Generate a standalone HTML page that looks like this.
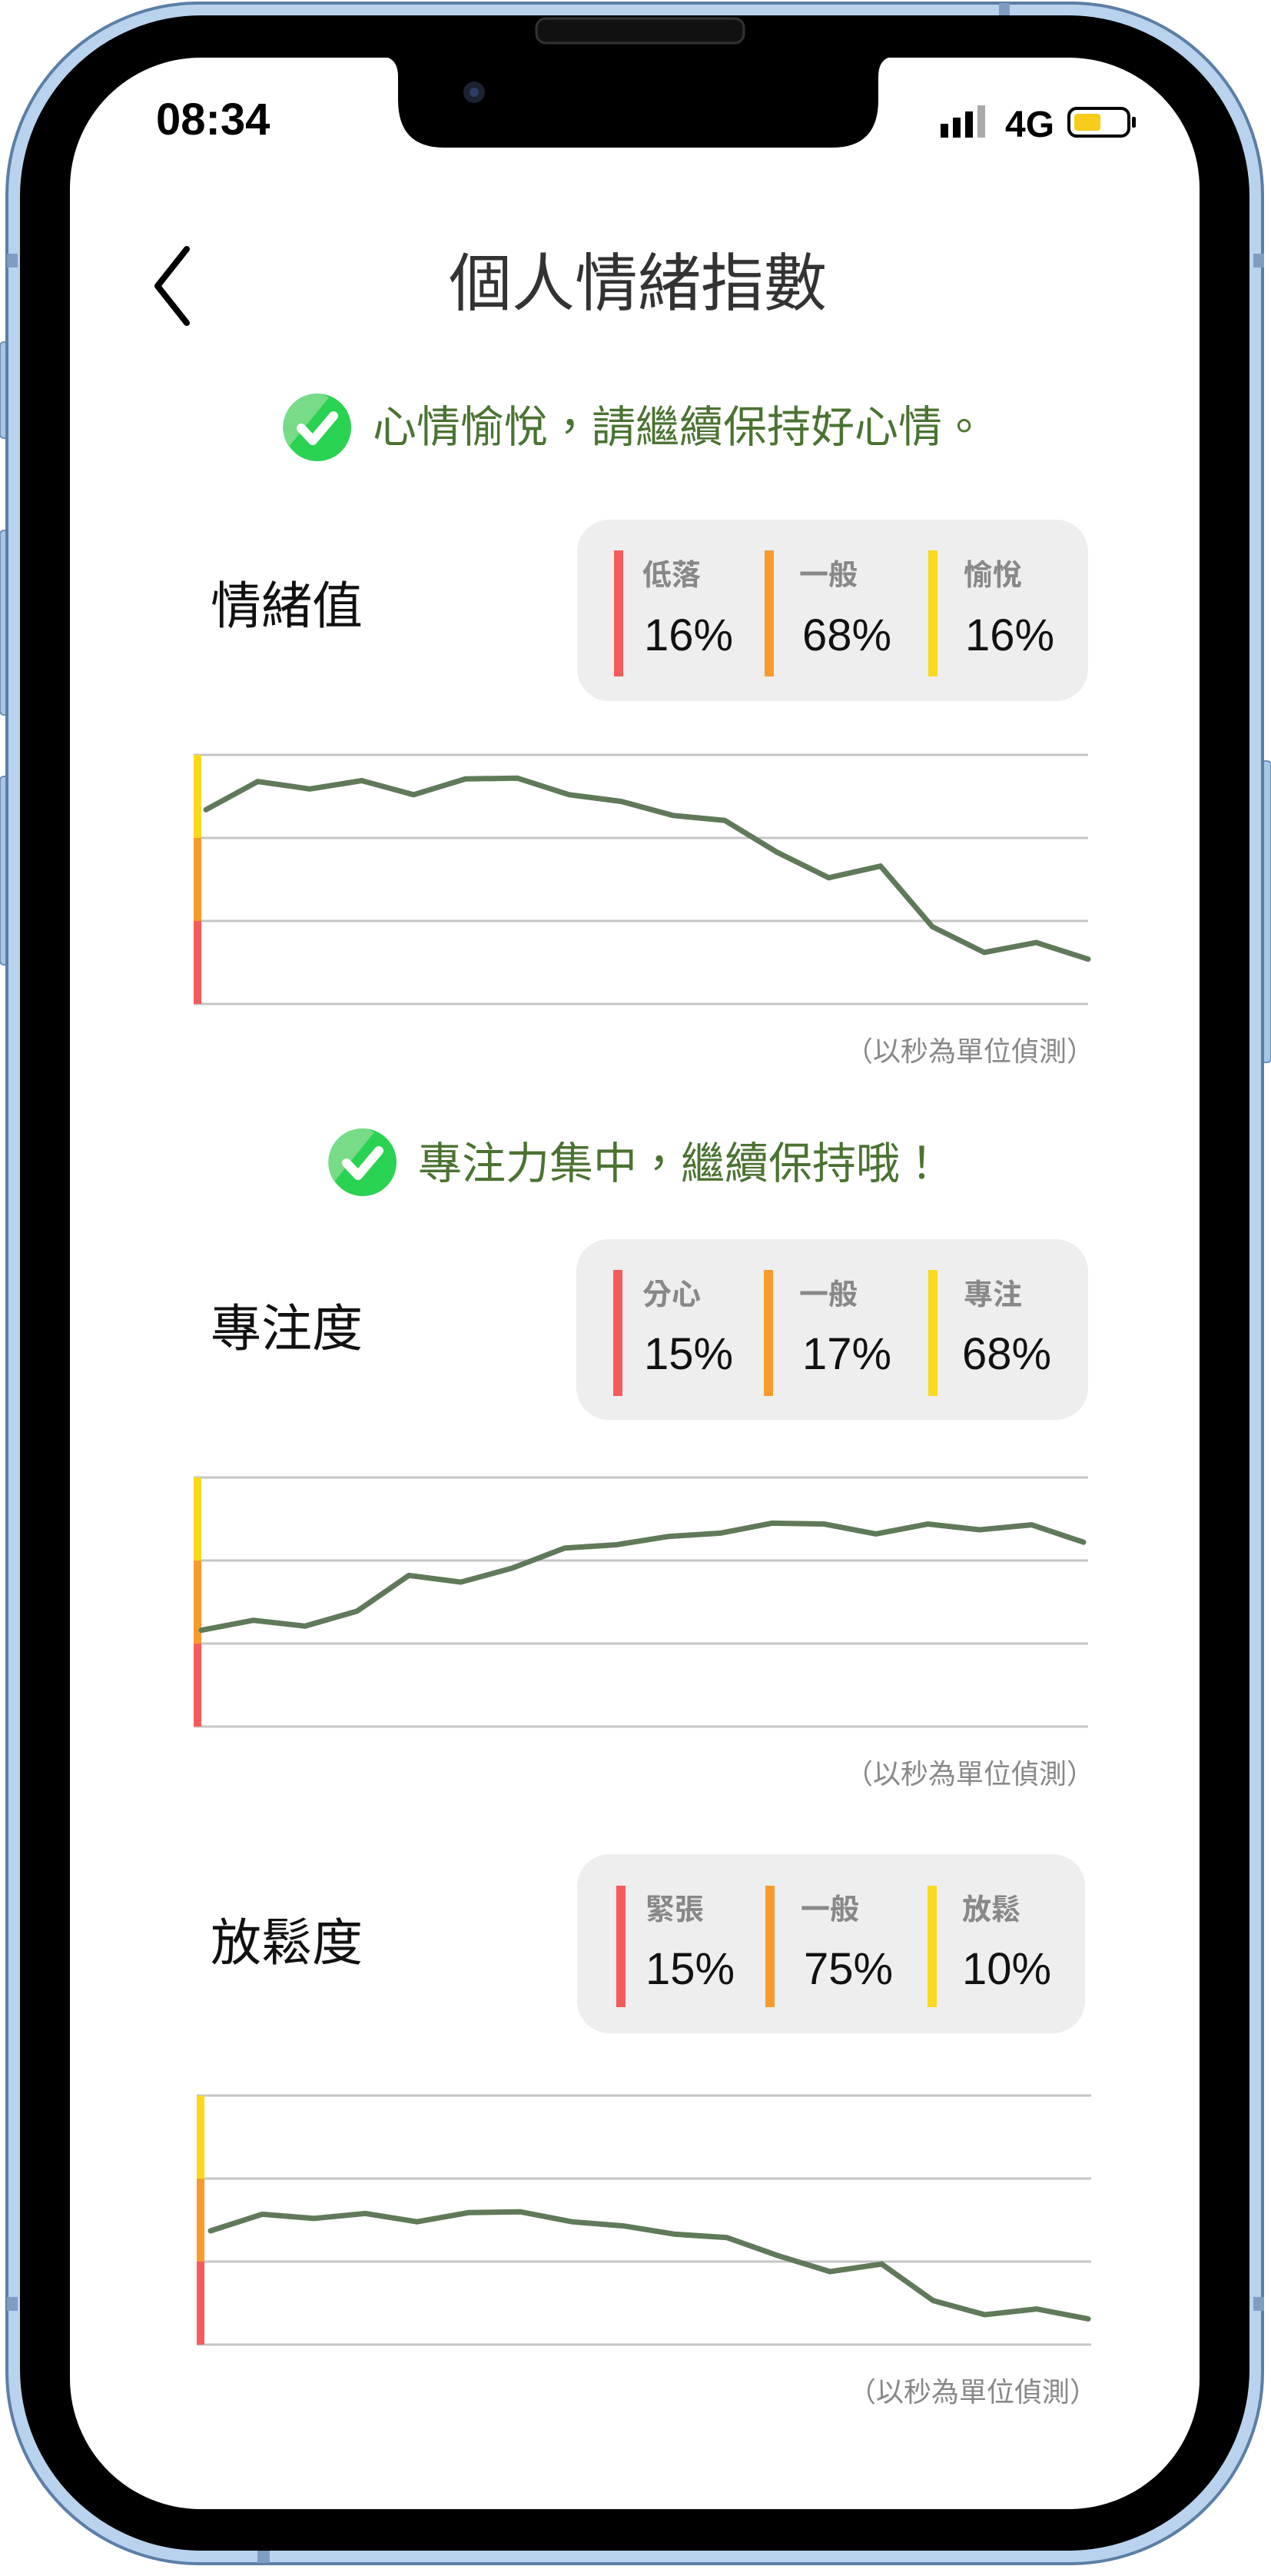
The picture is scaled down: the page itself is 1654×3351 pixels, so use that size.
<!DOCTYPE html>
<html><head><meta charset="utf-8">
<style>
html,body{margin:0;padding:0;background:#fff;}
body{width:1654px;height:3351px;position:relative;overflow:hidden;font-family:"Liberation Sans","Noto Sans CJK TC",sans-serif;}
.abs{position:absolute;}
.t{position:absolute;white-space:nowrap;}
.box{position:absolute;background:#eeeeee;border-radius:42px;}
.bar{position:absolute;width:12px;}
.lab{position:absolute;font-size:38px;line-height:38px;color:#888;font-weight:bold;white-space:nowrap;}
.val{position:absolute;font-size:58px;line-height:58px;color:#111;white-space:nowrap;}
.msg{position:absolute;font-size:57px;line-height:57px;color:#4a7332;white-space:nowrap;}
.sec{position:absolute;font-size:66px;line-height:66px;color:#111;white-space:nowrap;}
.cap{position:absolute;font-size:36px;line-height:36px;color:#888;white-space:nowrap;text-align:right;}
</style></head>
<body>
<svg class="abs" style="left:0;top:0" width="1654" height="3351">
  <rect x="0" y="445" width="14" height="125" rx="5" fill="#a8c6e6" stroke="#6f8fb3" stroke-width="2"/>
  <rect x="0" y="690" width="14" height="240" rx="5" fill="#a8c6e6" stroke="#6f8fb3" stroke-width="2"/>
  <rect x="0" y="1010" width="14" height="245" rx="5" fill="#a8c6e6" stroke="#6f8fb3" stroke-width="2"/>
  <rect x="1640" y="990" width="14" height="392" rx="5" fill="#a8c6e6" stroke="#6f8fb3" stroke-width="2"/>
  <rect x="9" y="4" width="1634" height="3331" rx="250" fill="#b9d3ee" stroke="#5c7ea6" stroke-width="4"/>
  <rect x="26" y="20" width="1600" height="3298" rx="236" fill="#000"/>
  <rect x="91" y="75" width="1470" height="3189" rx="170" fill="#fff"/>
  <path d="M505 75 L1156 75 Q1143 80 1143 100 L1143 130 Q1143 192 1083 192 L578 192 Q518 192 518 130 L518 100 Q518 80 505 75 Z" fill="#000"/>
  <circle cx="617" cy="120" r="14" fill="#1b2230"/>
  <circle cx="617" cy="120" r="6" fill="#2b3e63"/>
  <rect x="698" y="24" width="270" height="32" rx="12" fill="#111" stroke="#333" stroke-width="3"/>
  <rect x="1300" y="4" width="14" height="16" fill="#7f9dc2"/>
  <rect x="9" y="330" width="14" height="18" fill="#7f9dc2"/>
  <rect x="1631" y="330" width="14" height="18" fill="#7f9dc2"/>
  <rect x="9" y="2988" width="14" height="18" fill="#7f9dc2"/>
  <rect x="1631" y="2988" width="14" height="18" fill="#7f9dc2"/>
  <rect x="335" y="3318" width="16" height="16" fill="#7f9dc2"/>
</svg>

<div class="t" style="left:203px;top:127px;font-size:58px;line-height:58px;font-weight:bold;color:#000;">08:34</div>
<svg class="abs" style="left:1222px;top:135px" width="260" height="48">
  <rect x="2" y="26" width="10" height="18" fill="#000"/>
  <rect x="18" y="18" width="10" height="26" fill="#000"/>
  <rect x="34" y="10" width="10" height="34" fill="#000"/>
  <rect x="50" y="2" width="10" height="42" fill="#aaa"/>
  <text x="86" y="43" font-family="Liberation Sans" font-weight="bold" font-size="48" fill="#000">4G</text>
  <rect x="169" y="6" width="78" height="36" rx="10" fill="none" stroke="#000" stroke-width="4"/>
  <rect x="176" y="13" width="34" height="22" rx="4" fill="#f7cc1a"/>
  <rect x="251" y="17" width="5" height="14" rx="2" fill="#000"/>
</svg>

<svg class="abs" style="left:195px;top:318px" width="64" height="108">
  <polyline points="48,6 10,54 48,102" fill="none" stroke="#000" stroke-width="8" stroke-linecap="round" stroke-linejoin="round"/>
</svg>
<div class="t" style="left:0;width:1660px;text-align:center;top:327px;font-size:82px;line-height:86px;color:#333;">個人情緒指數</div>

<svg class="abs" style="left:368px;top:511px" width="90" height="90">
  <circle cx="45" cy="45" r="44" fill="#2ad252"/>
  <path d="M45 1 A44 44 0 0 0 8 70 L60 6 Q52 1 45 1Z" fill="#77db87"/>
  <polyline points="24,46 39,62 66,30" fill="none" stroke="#fff" stroke-width="12" stroke-linecap="round" stroke-linejoin="round"/>
</svg>
<div class="msg" style="left:485px;top:528px;">心情愉悅，請繼續保持好心情。</div>

<div class="sec" style="left:274px;top:755px;">情緒值</div>
<div class="box" style="left:751px;top:676px;width:665px;height:236px;"></div>
<div class="bar" style="left:799px;top:716px;height:164px;background:#f65b5b;"></div>
<div class="bar" style="left:995px;top:716px;height:164px;background:#f99b2c;"></div>
<div class="bar" style="left:1208px;top:716px;height:164px;background:#fbd91f;"></div>
<div class="lab" style="left:836px;top:730px;">低落</div>
<div class="lab" style="left:1040px;top:730px;">一般</div>
<div class="lab" style="left:1254px;top:730px;">愉悅</div>
<div class="val" style="left:838px;top:798px;">16%</div>
<div class="val" style="left:1044px;top:798px;">68%</div>
<div class="val" style="left:1256px;top:798px;">16%</div>
<svg id="chart1" class="abs" style="left:0;top:0" width="1654" height="3351"></svg>
<div class="cap" style="right:230px;top:1350px;">（以秒為單位偵測）</div>

<svg class="abs" style="left:427px;top:1467px" width="90" height="90">
  <circle cx="45" cy="45" r="44" fill="#2ad252"/>
  <path d="M45 1 A44 44 0 0 0 8 70 L60 6 Q52 1 45 1Z" fill="#77db87"/>
  <polyline points="24,46 39,62 66,30" fill="none" stroke="#fff" stroke-width="12" stroke-linecap="round" stroke-linejoin="round"/>
</svg>
<div class="msg" style="left:544px;top:1486px;">專注力集中，繼續保持哦！</div>

<div class="sec" style="left:274px;top:1695px;">專注度</div>
<div class="box" style="left:750px;top:1612px;width:666px;height:235px;"></div>
<div class="bar" style="left:798px;top:1652px;height:164px;background:#f65b5b;"></div>
<div class="bar" style="left:994px;top:1652px;height:164px;background:#f99b2c;"></div>
<div class="bar" style="left:1208px;top:1652px;height:164px;background:#fbd91f;"></div>
<div class="lab" style="left:836px;top:1666px;">分心</div>
<div class="lab" style="left:1040px;top:1666px;">一般</div>
<div class="lab" style="left:1254px;top:1666px;">專注</div>
<div class="val" style="left:838px;top:1733px;">15%</div>
<div class="val" style="left:1044px;top:1733px;">17%</div>
<div class="val" style="left:1252px;top:1733px;">68%</div>
<div class="cap" style="right:230px;top:2290px;">（以秒為單位偵測）</div>

<div class="sec" style="left:274px;top:2494px;">放鬆度</div>
<div class="box" style="left:751px;top:2412px;width:661px;height:233px;"></div>
<div class="bar" style="left:802px;top:2453px;height:158px;background:#f65b5b;"></div>
<div class="bar" style="left:996px;top:2453px;height:158px;background:#f99b2c;"></div>
<div class="bar" style="left:1207px;top:2453px;height:158px;background:#fbd91f;"></div>
<div class="lab" style="left:840px;top:2466px;">緊張</div>
<div class="lab" style="left:1042px;top:2466px;">一般</div>
<div class="lab" style="left:1252px;top:2466px;">放鬆</div>
<div class="val" style="left:840px;top:2533px;">15%</div>
<div class="val" style="left:1046px;top:2533px;">75%</div>
<div class="val" style="left:1252px;top:2533px;">10%</div>
<div class="cap" style="right:226px;top:3094px;">（以秒為單位偵測）</div>

<script>
// values on a 0..3 scale (3 bands: low / normal / high)
const moodValues = [2.34,2.68,2.59,2.69,2.52,2.71,2.72,2.52,2.44,2.27,2.21,1.83,1.52,1.66,0.93,0.62,0.74,0.54];
const focusValues = [1.16,1.28,1.21,1.39,1.82,1.74,1.91,2.15,2.19,2.29,2.33,2.45,2.44,2.32,2.44,2.37,2.43,2.22];
const relaxValues = [1.37,1.57,1.52,1.58,1.48,1.59,1.60,1.48,1.43,1.33,1.29,1.07,0.88,0.97,0.53,0.36,0.43,0.31];
const gridTicks = [0,1,2,3];
const bandColors = ['#f65b5b','#f99b2c','#fbd91f'];
const NS='http://www.w3.org/2000/svg';
const svg=document.getElementById('chart1');
function mk(tag,attrs){const e=document.createElementNS(NS,tag);for(const k in attrs)e.setAttribute(k,attrs[k]);svg.appendChild(e);return e;}
function drawChart(values,cfg,prefix){
  const yScale=v=>cfg.bottom-(v/3)*(cfg.bottom-cfg.top);
  const xScale=i=>cfg.x0+i*(cfg.x1-cfg.x0)/(values.length-1);
  gridTicks.forEach(t=>{
    const g=mk('line',{x1:cfg.barX,x2:cfg.right,y1:yScale(t),y2:yScale(t),stroke:'#c6c6c6','stroke-width':3});
    
    
  });
  for(let b=0;b<3;b++){
    const r=mk('rect',{x:cfg.barX,y:yScale(b+1),width:10,height:yScale(b)-yScale(b+1),fill:bandColors[b]});
    
    
  }
  const pts=values.map((v,i)=>xScale(i).toFixed(1)+','+yScale(v).toFixed(1)).join(' ');
  const l=mk('polyline',{points:pts,fill:'none',stroke:'#5f7a59','stroke-width':7,'stroke-linejoin':'miter','stroke-linecap':'round'});
  
  
}
drawChart(moodValues,{top:982,bottom:1306,barX:252,right:1416,x0:268,x1:1416},'mood-chart');
drawChart(focusValues,{top:1922,bottom:2246,barX:252,right:1416,x0:262,x1:1410},'focus-chart');
drawChart(relaxValues,{top:2726,bottom:3050,barX:256,right:1420,x0:274,x1:1416},'relax-chart');
</script>
</body></html>
